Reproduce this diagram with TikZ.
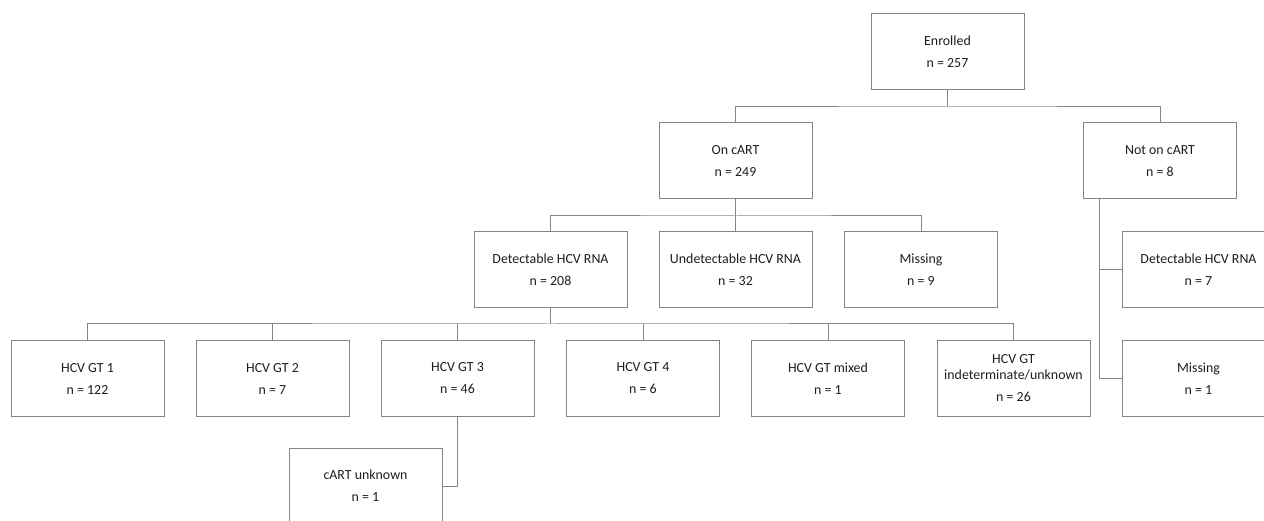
\documentclass[tikz,border=0pt]{standalone}
\usepackage{fontspec}
\setmainfont{Carlito}
\definecolor{linegray}{HTML}{858585}
\definecolor{txt}{HTML}{1E1E1E}
\begin{document}
\begin{tikzpicture}[x=1pt,y=-1pt,
  box/.style={draw=linegray,line width=1pt,minimum width=153pt,minimum height=76pt,inner sep=0pt,
    align=center,text=txt,font=\fontsize{13.9pt}{22pt}\selectfont},
  conn/.style={draw=linegray,line width=1pt}]
\useasboundingbox (0,0) rectangle (1264,521);
\clip (0,0) rectangle (1264,521);
\fill[white] (0,0) rectangle (1264,521);
\node[box] (enr) at (947.5,52) {Enrolled\\n = 257};
\node[box] (on) at (735.5,161) {On cART\\n = 249};
\node[box] (not) at (1160,161) {Not on cART\\n = 8};
\node[box] (det) at (550.5,270) {Detectable HCV RNA\\n = 208};
\node[box] (und) at (735.5,270) {Undetectable HCV RNA\\n = 32};
\node[box] (mis) at (921,270) {Missing\\n = 9};
\node[box] (nd) at (1198.5,270) {Detectable HCV RNA\\n = 7};
\node[box] (nm) at (1198.5,378.5) {Missing\\n = 1};
\node[box] (gt1) at (87.5,378.5) {HCV GT 1\\n = 122};
\node[box] (gt2) at (272.5,378.5) {HCV GT 2\\n = 7};
\node[box] (gt3) at (457.5,378.5) {HCV GT 3\\n = 46};
\node[box] (gt4) at (643,378.5) {HCV GT 4\\n = 6};
\node[box] (gtm) at (828,378.5) {HCV GT mixed\\n = 1};
\node[box] (gti) at (1013.5,378.5) {HCV GT\\[-6pt]indeterminate/unknown\\n = 26};
\node[box] (cu) at (365.5,486) {cART unknown\\n = 1};
\coordinate (j1) at (947.5,107);
\coordinate (j2) at (735.5,216);
\coordinate (j3) at (550.5,324);
\draw[conn] (enr.south) -- (j1);
\draw[conn] (on.north) |- (j1) -| (not.north);
\draw[conn] (on.south) -- (j2);
\draw[conn] (det.north) |- (j2) -| (mis.north);
\draw[conn] (j2) -- (und.north);
\draw[conn] (det.south) -- (j3);
\draw[conn] (gt1.north) |- (j3) -| (gti.north);
\draw[conn] (gt2.north) -- (gt2.north |- j3);
\draw[conn] (gt3.north) -- (gt3.north |- j3);
\draw[conn] (gt4.north) -- (gt4.north |- j3);
\draw[conn] (gtm.north) -- (gtm.north |- j3);
\draw[conn] ([xshift=16pt]not.south west) |- (nd.west);
\draw[conn] ([xshift=16pt]not.south west) |- (nm.west);
\draw[conn] (gt3.south) |- (cu.east);
\end{tikzpicture}
\end{document}
